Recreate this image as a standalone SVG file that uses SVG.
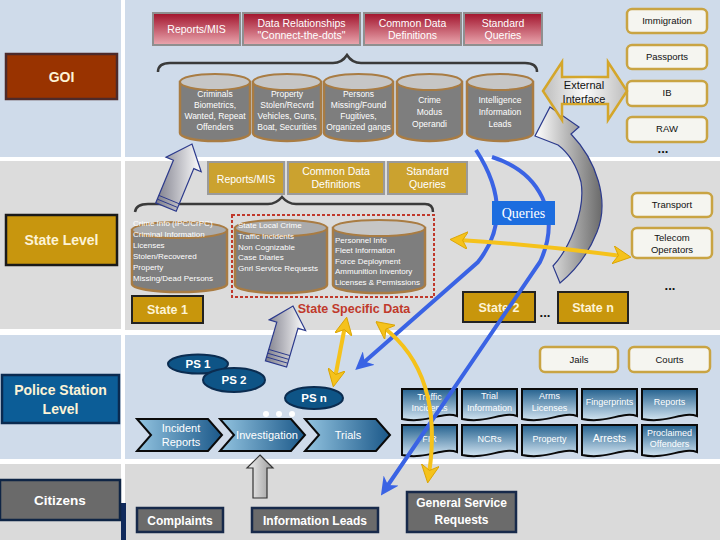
<svg xmlns="http://www.w3.org/2000/svg" width="720" height="540" viewBox="0 0 720 540">
<style>
text{font-family:"Liberation Sans",Arial,sans-serif}
.lbl{font-size:14px;font-weight:bold;fill:#fdf3d6;text-anchor:middle}
.red{fill:url(#redG);stroke:#8f8f8f;stroke-width:2}
.rt{font-size:10.5px;fill:#fff;text-anchor:middle}
.cb{fill:#7e7e7e;stroke:#a97c43;stroke-width:2.5}
.ct{fill:#c6c6c6;stroke:#a97c43;stroke-width:2}
.ct2{fill:#ababab;stroke:#a97c43;stroke-width:2}
.cyt{font-size:8.5px;fill:#fff;text-anchor:middle}
.cyl{font-size:8px;fill:#fff}
.cream{fill:#f5f5f0;stroke:#c9a443;stroke-width:2.5}
.bt{font-size:9.5px;fill:#111;text-anchor:middle}
.gold{fill:#cba22f;stroke:#9a9a9a;stroke-width:2}
.st{fill:#c8960c;stroke:#222;stroke-width:2}
.stt{font-size:12.5px;font-weight:bold;fill:#fdf3d6;text-anchor:middle}
.ps{fill:#0e5486;stroke:#0b2c50;stroke-width:2}
.pst{font-size:11.5px;font-weight:bold;fill:#fff;text-anchor:middle}
.chev{fill:url(#chevG);stroke:#0a0a0a;stroke-width:2}
.cht{font-size:11px;fill:#fff;text-anchor:middle}
.doc{fill:url(#docG);stroke:#0a0a0a;stroke-width:2}
.dt{font-size:9px;fill:#fff;text-anchor:middle}
.cit{fill:#6b6b6b;stroke:#17294a;stroke-width:2.5}
.citt{font-size:12px;font-weight:bold;fill:#fff;text-anchor:middle}
.blue{fill:none;stroke:#3a63e4;stroke-width:4}
.yel{fill:none;stroke:#f5c21b;stroke-width:4}
.garr{fill:url(#grayG);stroke:#2c3a8c;stroke-width:1.2}
.dots{font-size:13px;font-weight:bold;fill:#111;text-anchor:middle}
</style>
<defs>
<linearGradient id="redG" x1="0" y1="0" x2="0" y2="1"><stop offset="0" stop-color="#a1122b"/><stop offset="1" stop-color="#eaa8b0"/></linearGradient>
<linearGradient id="chevG" x1="0" y1="0" x2="1" y2="0"><stop offset="0" stop-color="#93c4e0"/><stop offset="1" stop-color="#1b5889"/></linearGradient>
<linearGradient id="docG" x1="0" y1="0" x2="0" y2="1"><stop offset="0" stop-color="#25628f"/><stop offset="1" stop-color="#d2e4f1"/></linearGradient>
<linearGradient id="grayG" x1="0" y1="0" x2="1" y2="0"><stop offset="0" stop-color="#7d7d8a"/><stop offset="1" stop-color="#ffffff"/></linearGradient>
<linearGradient id="curveG" x1="0" y1="0" x2="1" y2="0"><stop offset="0" stop-color="#ffffff"/><stop offset="1" stop-color="#6a6a6a"/></linearGradient>
<linearGradient id="upG" x1="0" y1="0" x2="1" y2="0"><stop offset="0" stop-color="#f2f2f2"/><stop offset="1" stop-color="#9a9a9a"/></linearGradient>
<linearGradient id="extG" x1="0" y1="0" x2="1" y2="0"><stop offset="0" stop-color="#bdbdbd"/><stop offset="0.5" stop-color="#fafafa"/><stop offset="1" stop-color="#bdbdbd"/></linearGradient>
<marker id="bh" markerUnits="userSpaceOnUse" markerWidth="18" markerHeight="18" viewBox="0 0 10 10" refX="5" refY="5" orient="auto-start-reverse"><path d="M0,0 L10,5 L0,10 L3,5 Z" fill="#3a63e4"/></marker>
<marker id="yh" markerUnits="userSpaceOnUse" markerWidth="18" markerHeight="18" viewBox="0 0 10 10" refX="5" refY="5" orient="auto-start-reverse"><path d="M0,0 L10,5 L0,10 L3,5 Z" fill="#f5c21b" stroke="#d9a300" stroke-width="0.5"/></marker>
<path id="doc" class="doc" d="M0,0 H55 V27 C40,22 25,35 0,30 Z"/>
</defs>

<!-- background bands -->
<rect width="720" height="540" fill="#ffffff"/>
<rect x="0" y="0" width="121" height="157" fill="#cfdbea"/>
<rect x="125" y="0" width="595" height="157" fill="#cfdbea"/>
<rect x="0" y="161" width="121" height="168" fill="#dcdcdc"/>
<rect x="125" y="161" width="595" height="169" fill="#dcdcdc"/>
<rect x="0" y="335" width="121" height="124" fill="#cfdbea"/>
<rect x="125" y="335" width="595" height="124" fill="#cfdbea"/>
<rect x="0" y="464" width="121" height="76" fill="#dadada"/>
<rect x="125" y="464" width="595" height="76" fill="#dadada"/>
<rect x="121" y="503" width="5" height="37" fill="#102a5c"/>

<!-- level labels -->
<g id="goi"><rect x="6" y="54" width="111" height="45" fill="#993300" stroke="#4d2a2a" stroke-width="2.5"/><text class="lbl" x="61.5" y="82">GOI</text></g>
<g id="state-level"><rect x="6" y="215" width="111" height="50" fill="#c8960e" stroke="#1a1a1a" stroke-width="2.5"/><text class="lbl" x="61.5" y="245">State Level</text></g>
<g id="police-level"><rect x="2" y="375" width="117" height="48" fill="#0c5d97" stroke="#0a2a50" stroke-width="2.5"/><text class="lbl" x="60.5" y="395" fill="#fff">Police Station</text><text class="lbl" x="60.5" y="414">Level</text></g>
<g id="citizens"><rect x="0" y="480" width="120" height="40" fill="#6a6a6a" stroke="#0f2545" stroke-width="2.5"/><text class="lbl" x="60" y="505" style="fill:#fff;font-size:13.5px">Citizens</text></g>

<!-- GOI top boxes -->
<g id="goi-reports"><rect class="red" x="153" y="13" width="87" height="32"/><text class="rt" x="196.5" y="33">Reports/MIS</text></g>
<g id="goi-relationships"><rect class="red" x="243" y="13" width="117" height="32"/><text class="rt" x="301.5" y="27">Data Relationships</text><text class="rt" x="301.5" y="39">"Connect-the-dots"</text></g>
<g id="goi-cdd"><rect class="red" x="364" y="13" width="97" height="32"/><text class="rt" x="412.5" y="27">Common Data</text><text class="rt" x="412.5" y="39">Definitions</text></g>
<g id="goi-queries"><rect class="red" x="464" y="13" width="78" height="32"/><text class="rt" x="503" y="27">Standard</text><text class="rt" x="503" y="39">Queries</text></g>

<path d="M158,72 Q158,63 170,63 L333,63 Q342,63 347,55 Q352,63 361,63 L525,63 Q537,63 537,72" fill="none" stroke="#3a3a3a" stroke-width="2.5"/>

<!-- GOI cylinders -->
<g id="cyl-criminals"><path class="cb" d="M180,82 L180,133 A35,8 0 0 0 250,133 L250,82 Z"/><ellipse class="ct" cx="215" cy="82" rx="35" ry="8"/>
<text class="cyt" x="215" y="97">Criminals</text><text class="cyt" x="215" y="108">Biometrics,</text><text class="cyt" x="215" y="119">Wanted, Repeat</text><text class="cyt" x="215" y="130">Offenders</text></g>
<g id="cyl-property"><path class="cb" d="M253,82 L253,133 A34,8 0 0 0 321,133 L321,82 Z"/><ellipse class="ct" cx="287" cy="82" rx="34" ry="8"/>
<text class="cyt" x="287" y="97">Property</text><text class="cyt" x="287" y="108">Stolen/Recvrd</text><text class="cyt" x="287" y="119">Vehicles, Guns,</text><text class="cyt" x="287" y="130">Boat, Securities</text></g>
<g id="cyl-persons"><path class="cb" d="M324,82 L324,133 A34.5,8 0 0 0 393,133 L393,82 Z"/><ellipse class="ct" cx="358.5" cy="82" rx="34.5" ry="8"/>
<text class="cyt" x="358.5" y="97">Persons</text><text class="cyt" x="358.5" y="108">Missing/Found</text><text class="cyt" x="358.5" y="119">Fugitives,</text><text class="cyt" x="358.5" y="130">Organized gangs</text></g>
<g id="cyl-modus"><path class="cb" d="M397,82 L397,133 A32.5,8 0 0 0 462,133 L462,82 Z"/><ellipse class="ct" cx="429.5" cy="82" rx="32.5" ry="8"/>
<text class="cyt" x="429.5" y="103">Crime</text><text class="cyt" x="429.5" y="115">Modus</text><text class="cyt" x="429.5" y="127">Operandi</text></g>
<g id="cyl-intel"><path class="cb" d="M467,82 L467,133 A33,8 0 0 0 533,133 L533,82 Z"/><ellipse class="ct" cx="500" cy="82" rx="33" ry="8"/>
<text class="cyt" x="500" y="103">Intelligence</text><text class="cyt" x="500" y="115">Information</text><text class="cyt" x="500" y="127">Leads</text></g>

<!-- external agencies -->
<g id="immigration"><rect class="cream" x="627" y="9" width="80" height="24" rx="5"/><text class="bt" x="667" y="24">Immigration</text></g>
<g id="passports"><rect class="cream" x="627" y="45" width="80" height="24" rx="5"/><text class="bt" x="667" y="60">Passports</text></g>
<g id="ib"><rect class="cream" x="627" y="81" width="80" height="25" rx="5"/><text class="bt" x="667" y="96">IB</text></g>
<g id="raw"><rect class="cream" x="627" y="117" width="80" height="25" rx="5"/><text class="bt" x="667" y="132">RAW</text></g>
<text class="dots" x="663" y="153">...</text>

<!-- State band -->
<g id="st-reports"><rect class="gold" x="208" y="162" width="76" height="32"/><text class="rt" x="246" y="183">Reports/MIS</text></g>
<g id="st-cdd"><rect class="gold" x="288" y="162" width="96" height="32"/><text class="rt" x="336" y="175">Common Data</text><text class="rt" x="336" y="188">Definitions</text></g>
<g id="st-queries"><rect class="gold" x="388" y="162" width="79" height="32"/><text class="rt" x="427.5" y="175">Standard</text><text class="rt" x="427.5" y="188">Queries</text></g>

<path d="M135,212 Q136,204 148,204 L268,204 Q276,204 282,197 Q288,204 296,204 L425,204 Q433,204 433,212" fill="none" stroke="#3a3a3a" stroke-width="2.5"/>

<g id="cyl-crimeinfo"><path class="cb" d="M132,230 L132,284 A47.5,8 0 0 0 227,284 L227,230 Z"/><ellipse class="ct2" cx="179.5" cy="230" rx="47.5" ry="8"/>
<text class="cyl" x="133" y="226">Crime Info (IPC/CrPC)</text><text class="cyl" x="133" y="237">Criminal Information</text><text class="cyl" x="133" y="248">Licenses</text><text class="cyl" x="133" y="259">Stolen/Recovered</text><text class="cyl" x="133" y="270">Property</text><text class="cyl" x="133" y="281">Missing/Dead Persons</text></g>

<g id="state-specific">
<rect x="232" y="215" width="202" height="82" fill="none" stroke="#c0392b" stroke-width="2" stroke-dasharray="3,2"/>
<path class="cb" d="M235,228 L235,285 A46,8 0 0 0 327,285 L327,228 Z"/><ellipse class="ct2" cx="281" cy="228" rx="46" ry="8"/>
<text class="cyl" x="238" y="228">State Local Crime</text><text class="cyl" x="238" y="239">Traffic Incidents</text><text class="cyl" x="238" y="250">Non Cognizable</text><text class="cyl" x="238" y="260">Case Diaries</text><text class="cyl" x="238" y="271">Gnrl Service Requests</text>
<path class="cb" d="M333,228 L333,285 A46,8 0 0 0 425,285 L425,228 Z"/><ellipse class="ct" cx="379" cy="228" rx="46" ry="8"/>
<text class="cyl" x="335" y="243">Personnel Info</text><text class="cyl" x="335" y="253">Fleet Information</text><text class="cyl" x="335" y="264">Force Deployment</text><text class="cyl" x="335" y="274">Ammunition Inventory</text><text class="cyl" x="335" y="285">Licenses &amp; Permissions</text>
<text x="354" y="313" style="font-size:12.5px;font-weight:bold;fill:#c0392b;text-anchor:middle">State Specific Data</text>
</g>

<g id="state1"><rect class="st" x="132" y="296" width="71" height="27"/><text class="stt" x="167.5" y="314">State 1</text></g>
<g id="state2"><rect class="st" x="463" y="292" width="72" height="30"/><text class="stt" x="499" y="312">State 2</text></g>
<text class="dots" x="545" y="317">...</text>
<g id="staten"><rect class="st" x="558" y="292" width="70" height="31"/><text class="stt" x="593" y="312">State n</text></g>

<g id="transport"><rect class="cream" x="632" y="193" width="80" height="24" rx="5"/><text class="bt" x="672" y="208">Transport</text></g>
<g id="telecom"><rect class="cream" x="632" y="228" width="80" height="30" rx="5"/><text class="bt" x="672" y="241">Telecom</text><text class="bt" x="672" y="253">Operators</text></g>
<text class="dots" x="670" y="290">...</text>

<!-- Police band -->
<g id="jails"><rect class="cream" x="540" y="347" width="78" height="25" rx="5"/><text class="bt" x="579" y="363">Jails</text></g>
<g id="courts"><rect class="cream" x="629" y="347" width="81" height="25" rx="5"/><text class="bt" x="669.5" y="363">Courts</text></g>

<g id="ps1"><ellipse class="ps" cx="198" cy="364" rx="30" ry="9.5"/><text class="pst" x="198" y="368">PS 1</text></g>
<g id="ps2"><ellipse class="ps" cx="234" cy="380" rx="31" ry="12"/><text class="pst" x="234" y="384">PS 2</text></g>
<g id="psn"><ellipse class="ps" cx="314" cy="398" rx="29" ry="11"/><text class="pst" x="314" y="402">PS n</text></g>
<circle cx="266" cy="414" r="3" fill="#fff"/><circle cx="279" cy="414" r="3" fill="#fff"/><circle cx="292" cy="414" r="3" fill="#fff"/>

<g id="incident"><path class="chev" d="M137,419 L208,419 L222,435 L208,451 L137,451 L151,435 Z"/><text class="cht" x="181" y="432">Incident</text><text class="cht" x="181" y="446">Reports</text></g>
<g id="investigation"><path class="chev" d="M220,419 L291,419 L305,435 L291,451 L220,451 L234,435 Z"/><text class="cht" x="267" y="439">Investigation</text></g>
<g id="trials"><path class="chev" d="M305,419 L376,419 L390,435 L376,451 L305,451 L319,435 Z"/><text class="cht" x="348" y="439">Trials</text></g>

<g id="doc-traffic"><use href="#doc" x="402" y="389"/><text class="dt" x="429.5" y="400">Traffic</text><text class="dt" x="429.5" y="411">Incidents</text></g>
<g id="doc-trial"><use href="#doc" x="462" y="389"/><text class="dt" x="489.5" y="399">Trial</text><text class="dt" x="489.5" y="411">Information</text></g>
<g id="doc-arms"><use href="#doc" x="522" y="389"/><text class="dt" x="549.5" y="399">Arms</text><text class="dt" x="549.5" y="411">Licenses</text></g>
<g id="doc-finger"><use href="#doc" x="582" y="389"/><text class="dt" x="609.5" y="405">Fingerprints</text></g>
<g id="doc-reports"><use href="#doc" x="642" y="389"/><text class="dt" x="669.5" y="405">Reports</text></g>
<g id="doc-fir"><use href="#doc" x="402" y="425"/><text class="dt" x="429.5" y="442">FIR</text></g>
<g id="doc-ncrs"><use href="#doc" x="462" y="425"/><text class="dt" x="489.5" y="442">NCRs</text></g>
<g id="doc-property"><use href="#doc" x="522" y="425"/><text class="dt" x="549.5" y="442">Property</text></g>
<g id="doc-arrests"><use href="#doc" x="582" y="425"/><text class="dt" x="609.5" y="442" style="font-size:10.5px">Arrests</text></g>
<g id="doc-proclaimed"><use href="#doc" x="642" y="425"/><text class="dt" x="669.5" y="436">Proclaimed</text><text class="dt" x="669.5" y="447">Offenders</text></g>

<!-- Citizens band -->
<g id="complaints"><rect class="cit" x="137" y="508" width="86" height="24"/><text class="citt" x="180" y="525">Complaints</text></g>
<g id="info-leads"><rect class="cit" x="252" y="508" width="126" height="24"/><text class="citt" x="315" y="525">Information Leads</text></g>
<g id="gsr"><rect class="cit" x="407" y="492" width="109" height="40"/><text class="citt" x="461.5" y="507">General Service</text><text class="citt" x="461.5" y="524">Requests</text></g>

<!-- connectors -->
<g id="connectors">
<path class="garr" d="M155.8,202.8 L173.4,160.2 L166,157.1 L192,144 L201.2,171.7 L193.8,168.6 L176.2,211.2 Z"/>
<path d="M157.3,199.1 L177.7,207.5 M158.9,195.4 L179.3,203.8" stroke="#2c3a8c" stroke-width="1"/>
<path class="garr" d="M265.4,360.9 L276.8,322.1 L269.2,319.9 L293,306 L305.6,330.5 L298,328.3 L286.6,367.1 Z"/>
<path d="M266.5,357 L287.7,363.2 M267.6,353.2 L288.8,359.4 M268.7,349.4 L289.9,355.6" stroke="#2c3a8c" stroke-width="1"/>
<path d="M260,455 L273,468 L267,468 L267,498 L253,498 L253,468 L247,468 Z" fill="url(#upG)" stroke="#333" stroke-width="1.2"/>
<path d="M550,107 L579,127 L571,134 C596,160 610,200 597,232 C589,252 576,270 560,283 L553,266 C568,250 586,212 581,182 C577,167 570,154 558,145 L535,136 Z" fill="url(#curveG)" stroke="#2c3a8c" stroke-width="1.2"/>
<path d="M543,91 L562,62 L562,77 L608,77 L608,62 L627,91 L608,120 L608,104 L562,104 L562,120 Z" fill="url(#extG)" stroke="#d4a62a" stroke-width="2.5"/>
<text x="584" y="89" style="font-size:11px;fill:#111;text-anchor:middle">External</text>
<text x="584" y="103" style="font-size:11px;fill:#111;text-anchor:middle">Interface</text>
<path class="blue" d="M476,150 C502,190 505,228 478,262 L362,364" marker-end="url(#bh)"/>
<path class="blue" d="M492,157 C540,172 562,215 540,262 L386,488" marker-end="url(#bh)"/>
<path class="yel" d="M459,240 Q540,245 622,256" marker-start="url(#yh)" marker-end="url(#yh)"/>
<path class="yel" d="M345,326 L335,378" marker-start="url(#yh)" marker-end="url(#yh)"/>
<path class="yel" d="M383,327 C420,355 440,400 429,474" marker-start="url(#yh)" marker-end="url(#yh)"/>
</g>

<g id="queries"><rect x="492" y="201" width="63" height="24" fill="#1c6ddf"/><text x="523.5" y="218" style="font-family:'Liberation Serif','Times New Roman',serif;font-size:14px;fill:#fff;text-anchor:middle">Queries</text></g>
</svg>
